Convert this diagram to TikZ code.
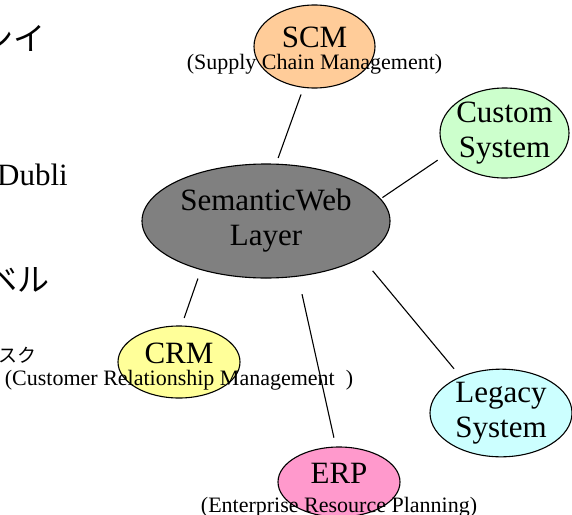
\documentclass[tikz,border=0pt]{standalone}
\usepackage{fontspec}
\setmainfont{Liberation Serif}
\newfontfamily\jpfont{Noto Sans CJK JP}
\usetikzlibrary{shapes.geometric,positioning}

\definecolor{scmfill}{HTML}{FFCC99}
\definecolor{custfill}{HTML}{CCFFCC}
\definecolor{swfill}{HTML}{808080}
\definecolor{crmfill}{HTML}{FFFF99}
\definecolor{legfill}{HTML}{CCFFFF}
\definecolor{erpfill}{HTML}{FF99CC}

\tikzset{
  sys/.style={ellipse, draw, line width=1.1pt, inner sep=0pt, align=center,
    font=\fontsize{31}{35}\selectfont},
  oneline/.style={text depth=18pt},
  note/.style={inner sep=0pt, anchor=base, font=\fontsize{22}{26}\selectfont},
  link/.style={line width=1.1pt},
  frag/.style={inner sep=0pt}
}

\begin{document}
\begin{tikzpicture}[x=1pt,y=-1pt]
 \useasboundingbox (0,0) rectangle (572,514);
 \clip (0,0) rectangle (572,514);
 % cut-off text of the slide behind
 \node[frag, anchor=base east, font=\jpfont\fontsize{32}{36}\selectfont] (frag1) at (46,50) {ンイ};
 \node[frag, anchor=base west, font=\fontsize{31}{35}\selectfont] (frag2) at (-3,185) {Dubli};
 \node[frag, anchor=base east, font=\jpfont\fontsize{32}{36}\selectfont] (frag3) at (50,291) {ベル};
 \node[frag, anchor=base east, font=\jpfont\fontsize{19}{22}\selectfont] (frag4) at (37,362) {スク};

 % the systems
 \node[sys, fill=swfill, minimum width=248pt, minimum height=114pt] (sw) at (266,221) {SemanticWeb\\Layer};
 \node[sys, oneline, fill=scmfill, minimum width=121pt, minimum height=83pt] (scm) at (314.5,46.5) {SCM};
 \node[sys, fill=custfill, inner xsep=-3pt, minimum width=129pt, minimum height=90pt] (custom) at (504.5,133) {Custom\\System};
 \node[sys, oneline, fill=crmfill, minimum width=122pt, minimum height=72pt] (crm) at (179,362) {CRM};
 \node[sys, fill=legfill, minimum width=142pt, minimum height=86pt] (legacy) at (501,413) {Legacy\\System};
 \node[sys, oneline, fill=erpfill, minimum width=122pt, minimum height=70pt] (erp) at (339,482) {ERP};

 \node[note] (scmnote) at ([yshift=-21.5pt]scm.base) {(Supply Chain Management)};
 \node[note] (crmnote) at ([yshift=-22pt]crm.base) {(Customer Relationship Management\ \ )};
 \node[note] (erpnote) at ([yshift=-29pt]erp.base) {(Enterprise Resource Planning)};

 % links to the layer
 \draw[link, shorten <=6pt, shorten >=7pt] (sw.80) -- (scm.255);
 \draw[link, shorten <=2pt, shorten >=11pt] (sw.11) -- (custom.200);
 \draw[link, shorten <=9pt, shorten >=8pt] (sw.217) -- (crm.86);
 \draw[link, shorten <=18pt, shorten >=9pt] (sw.300) -- (erp.95);
 \draw[link, shorten <=17pt, shorten >=10pt] (sw.339) -- (legacy.138);
\end{tikzpicture}
\end{document}
